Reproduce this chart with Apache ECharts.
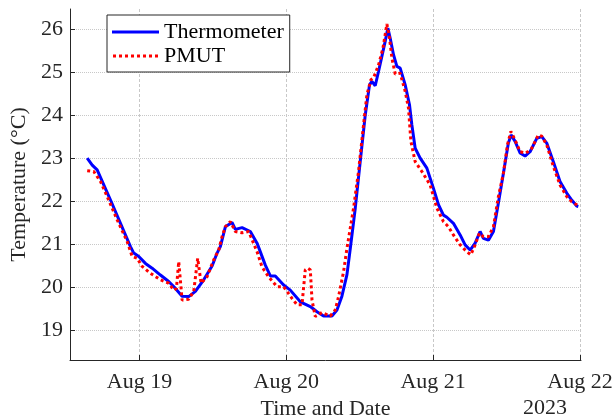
<!DOCTYPE html>
<html>
<head>
<meta charset="utf-8">
<script src="https://cdn.jsdelivr.net/npm/echarts@6/dist/echarts.min.js"></script>
<style>
html,body{margin:0;padding:0;background:#fff;}
#chart{width:612px;height:418px;}
</style>
</head>
<body>
<div id="chart"></div>
<script>
// Hours since Aug 19 2023 00:00
const thermoHours = [-8.54,-7.72,-6.91,-4.73,-3.10,-1.47,-0.93,-0.11,0.98,2.07,3.43,4.78,5.88,6.97,8.05,9.14,10.50,11.87,12.69,13.22,14.04,15.13,15.67,16.77,18.12,19.22,20.57,21.39,22.20,23.56,24.65,26.29,27.92,29.01,30.09,31.46,32.28,33.09,33.91,34.45,35.27,36.08,36.90,37.60,37.99,38.53,39.07,39.79,40.16,40.60,40.98,41.52,42.07,42.61,43.43,44.13,44.52,45.06,45.88,46.97,48.05,48.87,49.68,50.24,51.31,52.41,53.22,54.04,54.86,55.67,56.21,57.03,57.85,58.66,59.48,60.29,60.73,61.39,62.20,63.02,63.84,64.93,65.75,66.56,67.64,68.73,69.83,70.64,71.46,71.72];
const thermoValues = [23.00,22.84,22.73,22.03,21.49,20.95,20.80,20.72,20.56,20.45,20.29,20.14,19.98,19.80,19.79,19.91,20.18,20.50,20.80,20.95,21.41,21.51,21.35,21.39,21.30,21.03,20.52,20.27,20.27,20.06,19.94,19.67,19.56,19.44,19.34,19.34,19.48,19.80,20.30,20.90,21.84,22.92,24.00,24.70,24.78,24.68,25.01,25.47,25.71,26.02,25.78,25.40,25.13,25.09,24.70,24.24,23.77,23.23,23.00,22.77,22.30,21.92,21.68,21.63,21.49,21.22,20.99,20.87,21.03,21.30,21.14,21.10,21.30,21.96,22.65,23.35,23.54,23.39,23.12,23.05,23.15,23.46,23.50,23.35,22.92,22.46,22.19,22.03,21.89,21.88];

const pmutHours = [-8.54,-7.46,-6.37,-5.27,-3.64,-2.01,-1.19,-0.38,0.44,1.80,3.43,4.78,5.60,6.04,6.42,6.97,8.05,8.87,9.52,10.07,11.05,12.13,12.95,13.50,14.04,14.86,15.67,16.77,17.85,19.22,20.03,21.11,22.48,23.56,24.93,25.75,26.56,27.10,27.48,27.92,28.20,28.73,29.83,31.18,32.00,32.54,33.36,33.91,34.99,35.80,36.62,37.17,37.83,38.25,39.07,39.79,40.44,40.87,41.26,41.80,42.61,43.43,43.97,44.36,45.06,46.16,47.51,48.61,49.68,50.50,51.31,52.41,53.50,54.15,54.86,55.56,56.21,57.03,57.85,58.66,59.48,60.14,60.70,61.39,62.20,63.18,64.11,65.19,65.75,66.56,67.64,68.73,69.83,70.64,71.46,71.65];
const pmutValues = [22.71,22.69,22.46,22.11,21.57,21.07,20.72,20.68,20.49,20.33,20.18,20.10,19.94,19.98,20.60,19.71,19.73,19.91,20.68,20.10,20.25,20.64,20.87,21.18,21.41,21.53,21.30,21.27,21.30,20.83,20.48,20.25,20.02,20.02,19.75,19.60,19.60,20.41,20.45,20.41,19.71,19.33,19.42,19.34,19.48,19.79,20.37,20.91,21.84,22.69,23.77,24.47,24.82,24.86,25.16,25.55,26.11,25.78,25.32,24.95,24.97,24.55,24.16,23.39,22.92,22.69,22.38,21.84,21.53,21.41,21.22,20.99,20.83,20.76,20.99,21.26,21.18,21.18,21.41,22.11,22.65,23.31,23.62,23.42,23.15,23.12,23.23,23.54,23.51,23.31,22.81,22.38,22.11,21.99,21.92,21.90];

const xTickHours = [0, 24, 48, 72];
const xTickLabels = ['Aug 19', 'Aug 20', 'Aug 21', 'Aug 22'];
const yTicks = [19, 20, 21, 22, 23, 24, 25, 26];
const seriesNames = ['Thermometer', 'PMUT'];
const yearLabel = '2023';
const xAxisTitle = 'Time and Date';
const yAxisTitle = 'Temperature (°C)';

const zip = (a, b) => a.map((v, i) => [v, b[i]]);
const FONT = 'Liberation Serif';
const TXT = '#262626';

const solidIcon = 'path://M0,0h48v3h-48z';
let dotted = 'path://';
for (let i = 0; i < 8; i++) dotted += 'M' + (i * 6) + ',0h3v3h-3z';

const chart = echarts.init(document.getElementById('chart'), null, {renderer: 'canvas'});
chart.setOption({
  animation: false,
  backgroundColor: '#ffffff',
  grid: {left: 70, right: 31, top: 9, bottom: 58, containLabel: false, outerBoundsMode: 'none'},
  legend: {
    orient: 'vertical',
    left: 107, top: 15,
    padding: [5, 6, 4, 5],
    itemGap: 0,
    itemWidth: 47,
    itemHeight: 3,
    itemTextGap: 4,
    borderColor: '#262626',
    borderWidth: 1,
    backgroundColor: '#ffffff',
    textStyle: {fontFamily: FONT, fontSize: 22, color: '#000', lineHeight: 24},
    data: [
      {name: seriesNames[0], icon: solidIcon},
      {name: seriesNames[1], icon: dotted}
    ]
  },
  xAxis: {
    type: 'value',
    min: -11.35, max: 72.16,
    name: xAxisTitle,
    nameLocation: 'middle',
    nameGap: 34,
    nameTextStyle: {fontFamily: FONT, fontSize: 22, color: TXT},
    axisLine: {show: true, onZero: false, lineStyle: {color: TXT, width: 1}},
    axisTick: {show: true, inside: true, length: 5, customValues: xTickHours, lineStyle: {color: TXT}},
    axisLabel: {
      customValues: xTickHours,
      margin: 11,
      fontFamily: FONT, fontSize: 22, color: TXT,
      formatter: v => xTickLabels[xTickHours.indexOf(Math.round(v))] || ''
    },
    splitLine: {show: true, lineStyle: {color: '#c8c8c8', type: [3, 2], width: 1}}
  },
  yAxis: {
    type: 'value',
    min: 18.32, max: 26.46,
    name: yAxisTitle,
    nameLocation: 'middle',
    nameGap: 31,
    nameRotate: 90,
    nameTextStyle: {fontFamily: FONT, fontSize: 22, color: TXT},
    axisLine: {show: true, onZero: false, lineStyle: {color: TXT, width: 1}},
    axisTick: {show: true, inside: true, length: 5, customValues: yTicks, lineStyle: {color: TXT}},
    axisLabel: {customValues: yTicks, margin: 7, fontFamily: FONT, fontSize: 22, color: TXT},
    splitLine: {show: true, lineStyle: {color: '#c8c8c8', type: [1, 1], width: 1}}
  },
  graphic: [{
    type: 'text',
    left: 523, top: 397,
    style: {text: yearLabel, font: '22px "Liberation Serif"', fill: TXT}
  }],
  series: [
    {
      name: seriesNames[0], type: 'line', data: zip(thermoHours, thermoValues),
      showSymbol: false, symbol: 'none', smooth: false,
      lineStyle: {color: '#0000ff', width: 3},
      itemStyle: {color: '#0000ff'}, z: 2
    },
    {
      name: seriesNames[1], type: 'line', data: zip(pmutHours, pmutValues),
      showSymbol: false, symbol: 'none', smooth: false,
      lineStyle: {color: '#ff0000', width: 3, type: [3, 3], cap: 'butt'},
      itemStyle: {color: '#ff0000'}, z: 3
    }
  ]
});
</script>
</body>
</html>
